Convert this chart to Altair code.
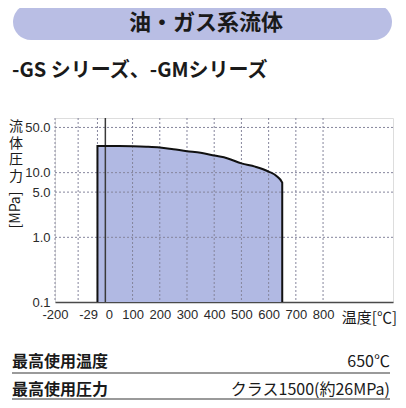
import altair as alt
import pandas as pd

# ---- data ----
temps = [-29, 50, 100, 150, 200, 250, 300, 350, 400, 450, 500, 550, 600, 630, 650]
pressures = [25.8, 25.8, 25.6, 25.2, 24.5, 23.0, 21.5, 20.3, 18.4, 16.6, 13.9, 12.4, 10.4, 8.8, 7.0]
x_tick_values = [-185, -100, -29, 0, 100, 200, 300, 400, 500, 600, 700, 800]
x_tick_labels = ["-200", "", "-29", "0", "100", "200", "300", "400", "500", "600", "700", "800"]
x_grid_values = [-185, -100, -29, 100, 200, 300, 400, 500, 600, 700, 800]
y_tick_values = [0.1, 1, 5, 10, 50]
y_grid_values = [1, 5, 10, 50]
zero_line = [0]
y_min = 0.1

title_text = "油・ガス系流体"
subtitle_text = "-GS シリーズ、-GMシリーズ"
y_title_chars = ["流", "体", "圧", "力"]
y_title_unit = "[MPa]"
x_title = "温度[℃]"
spec_rows = [("最高使用温度", "650℃"), ("最高使用圧力", "クラス1500(約26MPa)")]

JP = "Noto Sans CJK JP"
NUM = "Liberation Sans Narrow, Liberation Sans, Noto Sans CJK JP"
FILL = "#b1b9e3"
BANNER = "#b9bee4"
GRID = "#85859c"

area_df = pd.DataFrame({"t": temps, "p": pressures, "base": [y_min] * len(temps)})
outline_df = pd.DataFrame({
    "t": [temps[0]] + temps + [temps[-1]],
    "p": [y_min] + pressures + [y_min],
    "o": list(range(len(temps) + 2)),
})
one = pd.DataFrame({"k": [0]})

label_expr = " : ".join(
    f"datum.value == {v} ? '{l}'" for v, l in zip(x_tick_values, x_tick_labels)
) + " : datum.label"

xscale = alt.Scale(domain=[-185, 1057], nice=False, zero=False)
yscale = alt.Scale(type="log", domain=[0.1, 70], nice=False)

xaxis = alt.Axis(
    values=x_tick_values, labelExpr=label_expr, title=None, ticks=False, grid=False,
    domain=True, domainColor="#4a4a4a", domainWidth=1.5,
    labelFont=NUM, labelFontSize=13, labelColor="#2a2a2a", labelPadding=6,
    labelOverlap=False, labelFlush=False, labelBound=False,
    labelAlign={"expr": "datum.value == -29 ? 'right' : datum.value == 0 ? 'left' : 'center'"},
)
yaxis = alt.Axis(
    values=y_tick_values, format=".1f", title=None, ticks=False, grid=False,
    domain=False, labelFont=NUM, labelFontSize=13, labelColor="#2a2a2a", labelPadding=5,
    labelOverlap=False, labelFlush=False,
)

X = lambda f: alt.X(f, scale=xscale, axis=xaxis)
Y = lambda f: alt.Y(f, scale=yscale, axis=yaxis)

area = alt.Chart(area_df).mark_area(color=FILL, opacity=1).encode(
    x=X("t:Q"), y=Y("p:Q"), y2="base:Q",
)
vgrid = alt.Chart(pd.DataFrame({"g": x_grid_values})).mark_rule(
    color=GRID, strokeWidth=1, strokeDash=[2, 2]
).encode(x=X("g:Q"))
hgrid = alt.Chart(pd.DataFrame({"g": y_grid_values})).mark_rule(
    color=GRID, strokeWidth=1, strokeDash=[2, 2]
).encode(y=Y("g:Q"))
outline = alt.Chart(outline_df).mark_line(color="#111111", strokeWidth=2, interpolate="monotone").encode(
    x=X("t:Q"), y=Y("p:Q"), order="o:Q",
)
zero_rule = alt.Chart(pd.DataFrame({"z": zero_line})).mark_rule(color="#3a3a3a", strokeWidth=1.5).encode(
    x=X("z:Q"),
)

def txt(text, x, y, size, weight="normal", align="left", font=JP, angle=0, baseline="middle"):
    params = dict(text=text, fontSize=size, fontWeight=weight, align=align, font=font,
                  baseline=baseline, color="#1a1a1a")
    if angle:
        params["angle"] = angle
    return alt.Chart(one).mark_text(**params).encode(x=alt.value(x), y=alt.value(y))

banner = alt.Chart(one).mark_rect(color=BANNER, cornerRadius=18).encode(
    x=alt.value(-42), x2=alt.value(337), y=alt.value(-114), y2=alt.value(-78)
)
layers = [
    banner,
    txt(title_text, 151, -95, 22, weight="bold", align="center"),
    txt(subtitle_text, -43, -47, 20, weight="bold"),
    txt(y_title_unit, -39, 92, 14, align="center", angle=270),
    txt(x_title, 342, 200, 15, align="right"),
]
for i, ch in enumerate(y_title_chars):
    layers.append(txt(ch, -39, 9 + i * 16.5, 14, align="center"))
row_y = [244, 272]
line_y = [255, 281]
for (lab, val), ty, ly in zip(spec_rows, row_y, line_y):
    layers.append(txt(lab, -43, ty, 16, weight="bold"))
    layers.append(txt(val, 335, ty, 16, align="right"))
    layers.append(alt.Chart(one).mark_rule(color="#9a9a9a", strokeWidth=2).encode(
        x=alt.value(-43), x2=alt.value(335), y=alt.value(ly)))

chart = alt.layer(area, vgrid, hgrid, zero_rule, outline, *layers).properties(
    width=338, height=184,
    autosize=alt.AutoSizeParams(type="none"),
    padding={"left": 47, "top": 110, "right": 5, "bottom": 98},
).configure_view(stroke=None).configure(background="white").configure_axis(
    labelOverlap=False
)

chart.save("out.html", embed_options={"renderer": "svg", "actions": False})
